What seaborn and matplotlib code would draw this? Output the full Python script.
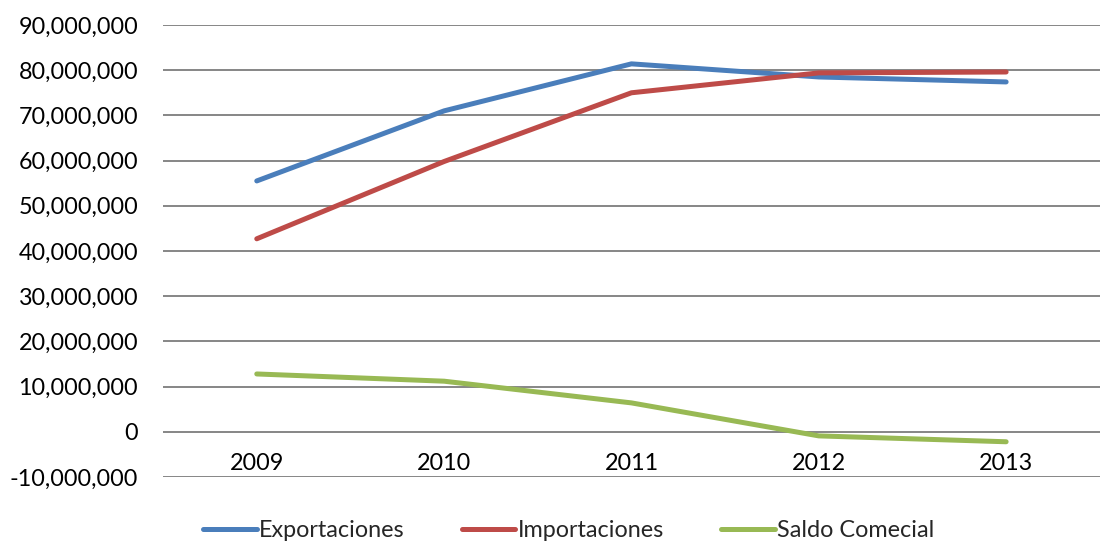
import pandas as pd
from matplotlib import pyplot as plt
from matplotlib.ticker import FuncFormatter
import seaborn as sns

years = [2009, 2010, 2011, 2012, 2013]
exportaciones = [55500000, 71000000, 81400000, 78500000, 77400000]
importaciones = [42700000, 59800000, 75000000, 79400000, 79600000]
saldo = [12800000, 11200000, 6400000, -900000, -2200000]
series_names = ['Exportaciones', 'Importaciones', 'Saldo Comecial']
colors = ['#4A7EBB', '#BE4B48', '#98B954']

df = pd.DataFrame({
  'x': list(range(len(years))) * 3,
  'valor': exportaciones + importaciones + saldo,
  'serie': [s for s in series_names for _ in years],
})

sns.set_style('white')
plt.rcParams['font.family'] = ['Lato', 'DejaVu Sans']

fig = plt.figure(figsize=(11.02, 5.43), dpi=100)
ax = fig.add_axes([0.148, 0.1215, 0.85, 0.8325])

sns.lineplot(data=df, x='x', y='valor', hue='serie', palette=colors,
             linewidth=3.6, ax=ax, legend=False, solid_capstyle='round')

ax.set_ylim(-10000000, 90000000)
ax.set_xlim(-0.5, 4.5)
ax.set_yticks(range(-10000000, 90000001, 10000000))
ax.yaxis.set_major_formatter(FuncFormatter(lambda v, p: f'{v:,.0f}'))
ax.set_xticks(range(len(years)))
ax.set_xticklabels([str(y) for y in years])
ax.grid(axis='y', color='#868686', linewidth=1.4)
ax.set_axisbelow(True)
for s in ['top', 'right', 'left']:
  ax.spines[s].set_visible(False)
ax.spines['bottom'].set_position(('data', 0))
ax.spines['bottom'].set_visible(False)
ax.tick_params(axis='y', length=0, pad=18, labelsize=16.8, colors='black')
ax.tick_params(axis='x', length=0, pad=15, labelsize=16.8, colors='black')
ax.set_xlabel('')
ax.set_ylabel('')

handles = [plt.Line2D([], [], color=c, linewidth=3.6, solid_capstyle='round') for c in colors]
fig.legend(handles, series_names, loc='lower center', ncol=3, frameon=False,
           fontsize=16.8, bbox_to_anchor=(0.516, -0.035), handlelength=2.3,
           handletextpad=0.1, columnspacing=2.45)

fig.savefig('out.png', dpi=100)
